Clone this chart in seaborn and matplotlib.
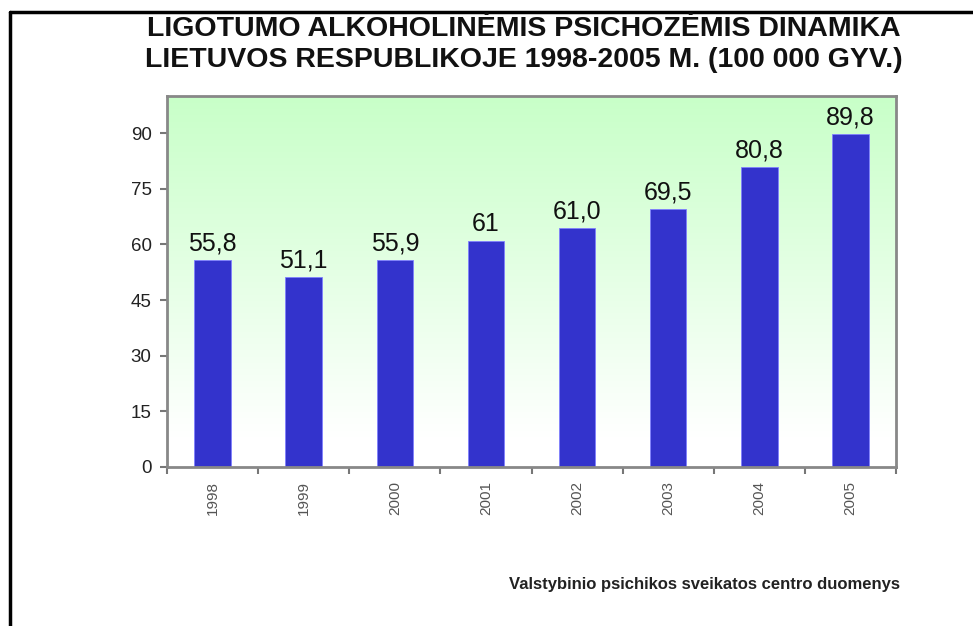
import numpy as np
import pandas as pd
import matplotlib
matplotlib.use("Agg")
import matplotlib.pyplot as plt
from matplotlib.colors import LinearSegmentedColormap
from matplotlib.lines import Line2D
import seaborn as sns

# duomenys
years = ["1998", "1999", "2000", "2001", "2002", "2003", "2004", "2005"]
values = [55.8, 51.1, 55.9, 61.0, 64.5, 69.5, 80.8, 89.8]
value_labels = ["55,8", "51,1", "55,9", "61", "61,0", "69,5", "80,8", "89,8"]
y_ticks = [0, 15, 30, 45, 60, 75, 90]

title_1 = "LIGOTUMO ALKOHOLINĖMIS PSICHOZĖMIS DINAMIKA"
title_2 = "LIETUVOS RESPUBLIKOJE 1998-2005 M. (100 000 GYV.)"
source = "Valstybinio psichikos sveikatos centro duomenys"

df = pd.DataFrame({"year": years, "value": values})

sns.set_style("ticks")
plt.rcParams["font.family"] = ["Liberation Sans", "DejaVu Sans"]

fig = plt.figure(figsize=(9.73, 6.26), dpi=100)
ax = fig.add_axes([0.1716, 0.254, 0.7493, 0.5926])

# fonas: žalias gradientas -> baltas
cmap = LinearSegmentedColormap.from_list("bg", [(0, "#ffffff"), (0.08, "#ffffff"), (1, "#c8ffc8")])
grad = np.linspace(0, 1, 256).reshape(-1, 1)
ax.imshow(grad, cmap=cmap, aspect="auto", origin="lower",
          extent=[0, 1, 0, 1], transform=ax.transAxes, zorder=0)

sns.barplot(data=df, x="year", y="value", color="#3333cc", width=0.4,
            saturation=1, edgecolor="#8080ff", linewidth=0.6, ax=ax, zorder=2)

ax.set_xlim(-0.5, len(years) - 0.5)
ax.set_ylim(0, 100)

for i, (v, lab) in enumerate(zip(values, value_labels)):
    ax.text(i, v + 1.2, lab, ha="center", va="bottom", fontsize=18, color="#111111")

ax.set_yticks(y_ticks)
ax.set_yticklabels([str(t) for t in y_ticks], fontsize=13.5, color="#222222")

# x ašis: brūkšniai tarp stulpelių, pavadinimai centre
ax.set_xticks(np.arange(-0.5, len(years), 1.0))
ax.set_xticklabels([])
ax.set_xticks(np.arange(len(years)), minor=True)
ax.set_xticklabels(years, minor=True, rotation=90, fontsize=11, color="#555555")
ax.tick_params(axis="x", which="minor", length=0, pad=10)
ax.tick_params(axis="x", which="major", length=5, width=1.5, color="#777777")
ax.tick_params(axis="y", length=5, width=1.5, color="#777777", pad=6)

ax.set_xlabel("")
ax.set_ylabel("")
for s in ax.spines.values():
    s.set_color("#888888")
    s.set_linewidth(2)
    s.set_visible(True)

fig.text(0.538, 1 - 29.5 / 626, title_1, ha="center", va="center",
         fontsize=20.5, fontweight="bold", color="#111111")
fig.text(0.538, 1 - 60 / 626, title_2, ha="center", va="center",
         fontsize=20.5, fontweight="bold", color="#111111")
fig.text(0.925, 1 - 584 / 626, source, ha="right", va="center",
         fontsize=12, fontweight="bold", color="#222222")

# rėmelis
fig.add_artist(Line2D([10 / 973, 1], [1 - 12 / 626] * 2, color="black", lw=2.5,
                      transform=fig.transFigure))
fig.add_artist(Line2D([10 / 973] * 2, [0, 1 - 12 / 626], color="black", lw=2.5,
                      transform=fig.transFigure))

fig.savefig("out.png", dpi=100)
